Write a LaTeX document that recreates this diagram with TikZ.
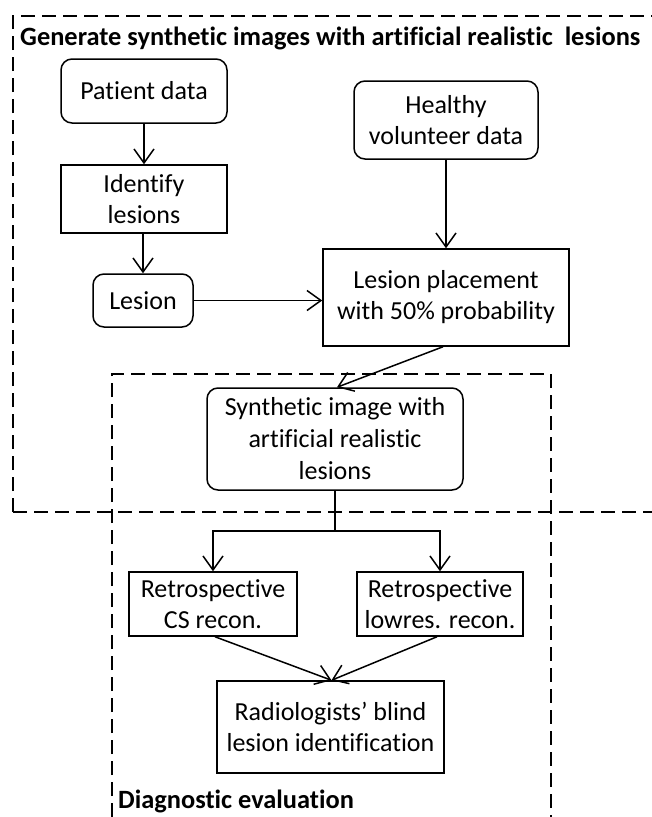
\documentclass[tikz,border=0pt]{standalone}
\usepackage{fontspec}
\setmainfont{Carlito}[Ligatures=NoCommon]
\usetikzlibrary{arrows.meta}
\begin{document}
\begin{tikzpicture}[x=1pt,y=-1pt,
  every node/.style={font=\fontsize{26}{31}\selectfont, align=center, inner sep=0pt},
  rbox/.style={draw, line width=1.5pt, rounded corners=11pt},
  sbox/.style={draw, line width=1.5pt},
  conn/.style={line width=1.5pt, -{Straight Barb[length=14pt,width=20pt,line width=1.5pt]}},
  plainline/.style={line width=1.5pt},
  frame/.style={line width=1.8pt, dash pattern=on 14pt off 7pt},
  ttl/.style={font=\bfseries\fontsize{26.4}{31}\selectfont, anchor=base west}]
\useasboundingbox (0,0) rectangle (652,817);
% frames
\draw[frame] (13,512) -- (13,16) -- (652,16);
\draw[frame] (13,512) -- (652,512);
\draw[frame] (112,817) -- (112,374) -- (551,374) -- (551,817);
% titles
\node[ttl] (t1) at (20,45) {Generate synthetic images with artificial realistic\ \ lesions};
\node[ttl] (t2) at (118,808) {Diagnostic evaluation};
% nodes
\node[rbox, minimum width=166pt, minimum height=64pt] (pd) at (144,91) {Patient data};
\node[rbox, minimum width=184pt, minimum height=78pt] (hv) at (446,120) {Healthy\\volunteer data};
\node[sbox, minimum width=166pt, minimum height=68pt] (il) at (144,199) {Identify\\lesions};
\node[rbox, minimum width=100pt, minimum height=53pt] (ls) at (143,300.5) {Lesion};
\node[sbox, minimum width=246pt, minimum height=97pt] (lp) at (446,297.5) {Lesion placement\\with 50\% probability};
\node[rbox, minimum width=256pt, minimum height=102pt, font=\fontsize{26}{32}\selectfont] (si) at (335,439) {Synthetic image with\\artificial realistic\\lesions};
\node[sbox, minimum width=168pt, minimum height=64pt] (cs) at (213,604) {Retrospective\\CS recon.};
\node[sbox, minimum width=166pt, minimum height=64pt] (lr) at (440,604) {Retrospective\\lowres. recon.};
\node[sbox, minimum width=227pt, minimum height=92pt] (rb) at (330.5,727) {Radiologists’ blind\\lesion identification};
\coordinate (br) at (335,531);
% connectors
\draw[conn] (pd) -- (il);
\draw[conn] (il.south -| ls.north) -- (ls.north);
\draw[conn] (ls.east) -- (ls.east -| lp.west);
\draw[conn] (hv) -- (lp);
\draw[conn] ([xshift=-3pt]lp.south) -- ([xshift=2pt]si.north);
\draw[plainline] (si.south) -- (br);
\draw[conn] (br) -| (cs.north);
\draw[conn] (br) -| (lr.north);
\draw[conn] ([xshift=2pt]cs.south) -- ([xshift=1pt]rb.north);
\draw[conn] ([xshift=-3pt]lr.south) -- ([xshift=1pt]rb.north);
\end{tikzpicture}
\end{document}
